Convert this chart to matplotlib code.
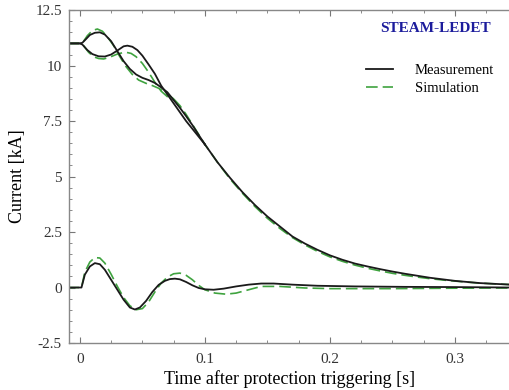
import numpy as np
import matplotlib
matplotlib.use("Agg")
import matplotlib.pyplot as plt
from matplotlib.ticker import MultipleLocator

plt.rcParams['font.family'] = ['Liberation Serif', 'DejaVu Serif']

# measured currents (two upper branches share the decay tail)
t_meas_a = [-0.01, 0.0, 0.002, 0.005, 0.008, 0.012, 0.016, 0.020, 0.025, 0.030, 0.035,
            0.040, 0.045, 0.050, 0.055, 0.060, 0.065, 0.070, 0.075, 0.080, 0.085, 0.090,
            0.095, 0.100]
i_meas_a = [11.0, 11.0, 11.03, 11.2, 11.38, 11.48, 11.5, 11.4, 11.1, 10.65, 10.2,
            9.85, 9.6, 9.45, 9.35, 9.22, 9.02, 8.8, 8.45, 8.1, 7.72, 7.32,
            6.88, 6.45]
t_meas_b = [-0.01, 0.0, 0.002, 0.006, 0.010, 0.015, 0.020, 0.025, 0.030, 0.035, 0.038,
            0.042, 0.046, 0.050, 0.055, 0.060, 0.065, 0.070, 0.075, 0.080, 0.085, 0.090,
            0.095, 0.100]
i_meas_b = [11.0, 11.0, 10.95, 10.7, 10.52, 10.42, 10.41, 10.5, 10.68, 10.87, 10.9,
            10.85, 10.7, 10.45, 10.05, 9.63, 9.1, 8.7, 8.3, 7.9, 7.5, 7.15,
            6.8, 6.45]
t_meas_tail = [0.100, 0.110, 0.120, 0.130, 0.140, 0.150, 0.160, 0.170, 0.180, 0.190,
               0.200, 0.210, 0.220, 0.230, 0.240, 0.250, 0.260, 0.270, 0.280, 0.290,
               0.300, 0.310, 0.320, 0.330, 0.345]
i_meas_tail = [6.45, 5.65, 4.95, 4.3, 3.72, 3.2, 2.75, 2.3, 1.98, 1.7,
               1.45, 1.25, 1.08, 0.95, 0.83, 0.72, 0.62, 0.53, 0.44, 0.37,
               0.3, 0.25, 0.2, 0.17, 0.13]
t_meas_c = [-0.01, 0.0013, 0.004, 0.008, 0.012, 0.016, 0.020, 0.025, 0.030, 0.035,
            0.040, 0.044, 0.048, 0.053, 0.058, 0.063, 0.068, 0.072, 0.076, 0.080,
            0.085, 0.090, 0.095, 0.100, 0.107, 0.115, 0.125, 0.135, 0.145, 0.155,
            0.170, 0.190, 0.220, 0.260, 0.300, 0.345]
i_meas_c = [0.0, 0.0, 0.58, 0.95, 1.1, 1.05, 0.8, 0.35, -0.1, -0.55,
            -0.9, -0.99, -0.9, -0.6, -0.2, 0.12, 0.3, 0.38, 0.4, 0.37,
            0.25, 0.1, -0.02, -0.08, -0.1, -0.05, 0.05, 0.13, 0.18, 0.18,
            0.13, 0.08, 0.05, 0.03, 0.02, 0.0]

# simulated currents
t_sim_a = [-0.01, 0.0, 0.003, 0.006, 0.010, 0.014, 0.018, 0.022, 0.027, 0.032, 0.037,
           0.042, 0.047, 0.053, 0.058, 0.063, 0.068, 0.075]
i_sim_a = [11.0, 11.0, 11.1, 11.35, 11.58, 11.65, 11.55, 11.3, 10.9, 10.4, 9.95,
           9.6, 9.35, 9.2, 9.1, 8.98, 8.8, 8.5]
t_sim_b = [-0.01, 0.0, 0.003, 0.007, 0.011, 0.015, 0.019, 0.024, 0.029, 0.034, 0.037,
           0.041, 0.045, 0.050, 0.055, 0.060, 0.065, 0.070, 0.075]
i_sim_b = [11.0, 11.0, 10.9, 10.6, 10.4, 10.32, 10.3, 10.38, 10.5, 10.58, 10.6,
           10.55, 10.4, 10.1, 9.7, 9.25, 8.85, 8.6, 8.5]
t_sim_tail = [0.075, 0.080, 0.085, 0.090, 0.100, 0.110, 0.120, 0.130, 0.140, 0.150,
              0.160, 0.170, 0.180, 0.190, 0.200, 0.210, 0.220, 0.230, 0.240, 0.250,
              0.260, 0.270, 0.280, 0.290, 0.300, 0.310, 0.320, 0.330, 0.345]
i_sim_tail = [8.5, 8.2, 7.8, 7.35, 6.45, 5.65, 4.9, 4.25, 3.65, 3.12,
              2.66, 2.25, 1.92, 1.63, 1.38, 1.18, 1.01, 0.87, 0.75, 0.64,
              0.55, 0.47, 0.4, 0.34, 0.29, 0.24, 0.2, 0.17, 0.13]
t_sim_c = [-0.01, 0.0013, 0.004, 0.008, 0.012, 0.016, 0.020, 0.025, 0.030, 0.035,
           0.040, 0.045, 0.050, 0.055, 0.060, 0.065, 0.070, 0.075, 0.080, 0.085,
           0.090, 0.095, 0.100, 0.108, 0.117, 0.125, 0.135, 0.145, 0.160, 0.180,
           0.200, 0.250, 0.300, 0.345]
i_sim_c = [0.0, 0.0, 0.7, 1.15, 1.35, 1.33, 1.1, 0.6, 0.05, -0.45,
           -0.82, -1.0, -0.95, -0.65, -0.2, 0.2, 0.47, 0.62, 0.65, 0.55,
           0.35, 0.1, -0.1, -0.25, -0.3, -0.25, -0.1, 0.05, 0.05, -0.02,
           -0.05, -0.05, -0.03, -0.02]

black = '#1a1a1a'
green = '#3fa33f'
dash = (0, (7, 3))

fig = plt.figure(figsize=(5.1, 3.9), dpi=100)
ax = fig.add_axes([0.135, 0.1205, 0.865, 0.8535])

for t, i in [(t_sim_a, i_sim_a), (t_sim_b, i_sim_b), (t_sim_tail, i_sim_tail), (t_sim_c, i_sim_c)]:
    ax.plot(t, i, color=green, lw=1.2, linestyle=dash)
for t, i in [(t_meas_a, i_meas_a), (t_meas_b, i_meas_b), (t_meas_tail, i_meas_tail), (t_meas_c, i_meas_c)]:
    ax.plot(t, i, color=black, lw=1.3)

# legend proxies
ax.plot([], [], color=black, lw=1.3, label='Measurement')
ax.plot([], [], color=green, lw=1.2, linestyle=dash, label='Simulation')
handles, labels = ax.get_legend_handles_labels()
leg = ax.legend(handles[-2:], labels[-2:], loc='upper right', bbox_to_anchor=(0.993, 0.878),
                frameon=False, fontsize=10.5, handlelength=1.8, handletextpad=1.5,
                labelspacing=0.3)

ax.text(0.956, 0.945, 'STEAM-LEDET', transform=ax.transAxes, ha='right', va='center',
        color='#1c1c9c', fontsize=11, fontweight='bold')

ax.set_xlim(-0.0088, 0.344)
ax.set_ylim(-2.5, 12.5)
ax.xaxis.set_major_locator(MultipleLocator(0.1))
ax.xaxis.set_minor_locator(MultipleLocator(0.025))
ax.yaxis.set_major_locator(MultipleLocator(2.5))
ax.yaxis.set_minor_locator(MultipleLocator(0.5))
ax.set_xticks([0, 0.1, 0.2, 0.3])
ax.set_xticklabels(['0', '0.1', '0.2', '0.3'])
ax.set_yticks([-2.5, 0, 2.5, 5, 7.5, 10, 12.5])
ax.set_yticklabels(['-2.5', '0', '2.5', '5', '7.5', '10', '12.5'])

ax.tick_params(which='both', direction='in', top=True, right=False, colors='#777777',
               labelcolor='#333333', labelsize=11)
ax.tick_params(which='major', length=4, width=0.8)
ax.tick_params(axis='x', which='major', pad=7)
ax.tick_params(axis='y', which='major', pad=5)
ax.tick_params(which='minor', length=2.5, width=0.6)
for s in ['left', 'bottom', 'top']:
    ax.spines[s].set_color('#888888')
    ax.spines[s].set_linewidth(1.0)
ax.spines['right'].set_visible(False)

ax.set_xlabel('Time after protection triggering [s]', fontsize=13, labelpad=3)
ax.set_ylabel('Current [kA]', fontsize=13, labelpad=7)

fig.savefig('out.png', dpi=100)
